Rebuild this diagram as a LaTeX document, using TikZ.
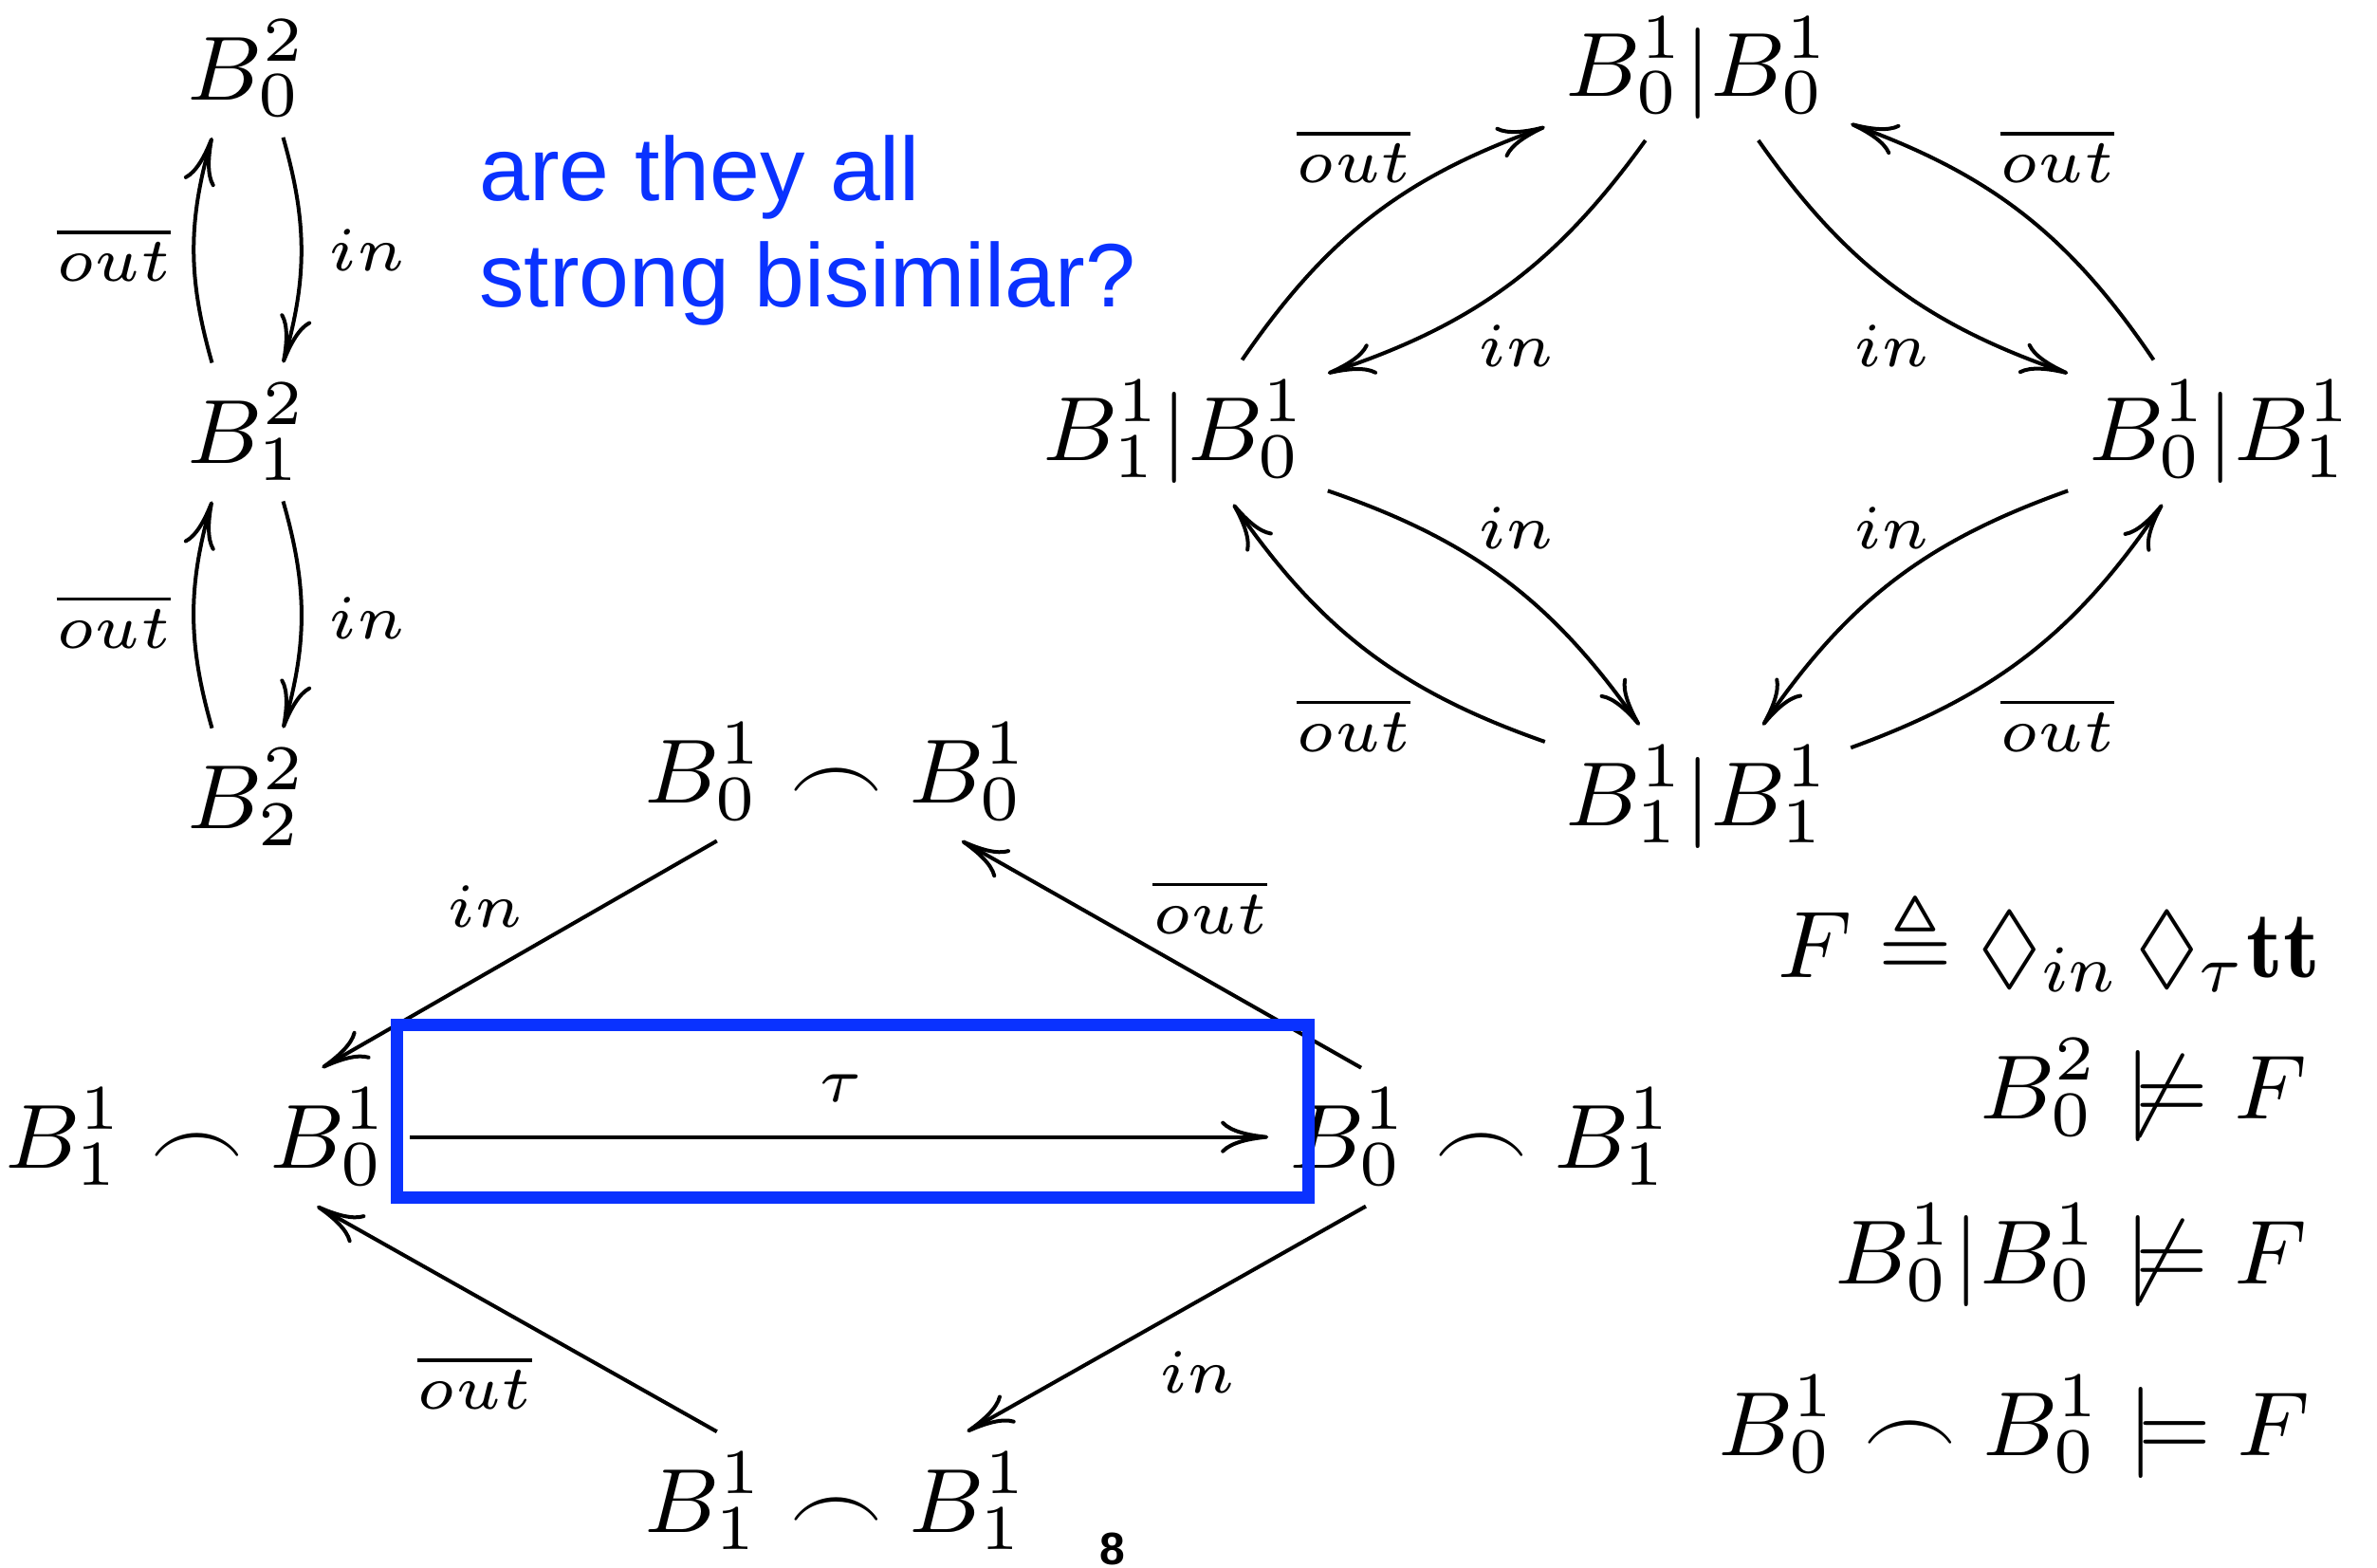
\RequirePackage{fix-cm}
\documentclass[tikz,border=0pt]{standalone}
\usepackage{amssymb}
\usepackage{fontspec}
\newfontfamily\helv{Liberation Sans}
\usetikzlibrary{arrows.meta}
\definecolor{qblue}{RGB}{10,50,255}
\begin{document}
\begin{tikzpicture}[x=0.1598pt, y=0.1598pt,
  every node/.style={font=\fontsize{9.6}{11.5}\selectfont},
  st/.style={inner sep=2pt},
  lb/.style={inner sep=0pt, font=\fontsize{6.6}{8}\selectfont},
  fm/.style={inner sep=0pt, anchor=base east},
  tr/.style={-{To[length=5pt,width=3.4pt]}}]
  \useasboundingbox (0,0) rectangle (1568,-1034);
  % one buffer of size 2
  \node[st] (a0) at (163,-45) {$B^2_0$};
  \node[st] (a1) at (163,-285) {$B^2_1$};
  \node[st] (a2) at (163,-526) {$B^2_2$};
  \draw[tr] ([xshift=-3.7pt]a1.north) to[bend left=16] ([xshift=-3.7pt]a0.south);
  \draw[tr] ([xshift=3.8pt]a0.south) to[bend left=16] ([xshift=3.8pt]a1.north);
  \draw[tr] ([xshift=-3.7pt]a2.north) to[bend left=16] ([xshift=-3.7pt]a1.south);
  \draw[tr] ([xshift=3.8pt]a1.south) to[bend left=16] ([xshift=3.8pt]a2.north);
  \node[lb] (la0) at (75,-168) {$\overline{out}$};
  \node[lb] (la1) at (242,-165) {$in$};
  \node[lb] (la2) at (75,-410) {$\overline{out}$};
  \node[lb] (la3) at (242,-408) {$in$};
  % question
  \node[inner sep=0pt, anchor=north west, align=left, text=qblue,
    font=\helv\fontsize{9.5}{11.2}\selectfont] (q) at (315,-88)
    {are they all\\strong bisimilar?};
  % parallel composition
  \node[st] (p00) at (1120,-45) {$B^1_0|B^1_0$};
  \node[st] (p10) at (775,-285) {$B^1_1|B^1_0$};
  \node[st] (p01) at (1465,-285) {$B^1_0|B^1_1$};
  \node[st] (p11) at (1120,-526) {$B^1_1|B^1_1$};
  \draw[tr] (p10.47) to[bend left=18] (p00.201);
  \draw[tr] (p00.234) to[bend left=18] (p10.21);
  \draw[tr] (p01.133) to[bend right=18] (p00.340);
  \draw[tr] (p00.310) to[bend right=18] (p01.159);
  \draw[tr] (p10.339) to[bend left=18] (p11.129);
  \draw[tr] (p11.160) to[bend left=18] (p10.309);
  \draw[tr] (p01.201) to[bend right=18] (p11.48);
  \draw[tr] (p11.18) to[bend right=18] (p01.231);
  \node[lb] (lp0) at (893,-103) {$\overline{out}$};
  \node[lb] (lp1) at (1000,-228) {$in$};
  \node[lb] (lp2) at (1248,-228) {$in$};
  \node[lb] (lp3) at (1357,-103) {$\overline{out}$};
  \node[lb] (lp4) at (1000,-348) {$in$};
  \node[lb] (lp5) at (1248,-348) {$in$};
  \node[lb] (lp6) at (893,-478) {$\overline{out}$};
  \node[lb] (lp7) at (1357,-478) {$\overline{out}$};
  % linking
  \node[st] (c00) at (552,-509) {$B^1_0 \frown B^1_0$};
  \node[st] (c10) at (130,-750) {$B^1_1 \frown B^1_0$};
  \node[st] (c01) at (977,-750) {$B^1_0 \frown B^1_1$};
  \node[st] (c11) at (552,-990) {$B^1_1 \frown B^1_1$};
  \draw[tr] (c00.210) -- (c10.29);
  \draw[tr] (c01.150) -- (c00.331);
  \draw[tr] (c10.east) -- (c01.west);
  \draw[tr] (c11.150) -- (c10.330);
  \draw[tr] (c01.211) -- (c11.28);
  \node[lb] (lc0) at (320,-598) {$in$};
  \node[lb] (lc1) at (798,-598) {$\overline{out}$};
  \node[lb] (lc2) at (555,-718) {$\tau$};
  \node[lb] (lc3) at (313,-912) {$\overline{out}$};
  \node[lb] (lc4) at (790,-905) {$in$};
  \draw[qblue, line width=1.3pt] (262,-676) rectangle (863,-790);
  % formula
  \node[fm, font=\fontsize{10}{12}\selectfont] (f0) at (1532,-645) {$F \triangleq \Diamond_{in}\,\Diamond_{\tau}\mathbf{tt}$};
  \node[fm] (f1) at (1523,-738) {$B^2_0 \not\models F$};
  \node[fm] (f2) at (1523,-847) {$B^1_0|B^1_0 \not\models F$};
  \node[fm] (f3) at (1525,-960) {$B^1_0 \frown B^1_0 \models F$};
  \node[inner sep=0pt, anchor=base, font=\helv\bfseries\fontsize{4.8}{5}\selectfont] (pg) at (734,-1032) {8};
\end{tikzpicture}
\end{document}
